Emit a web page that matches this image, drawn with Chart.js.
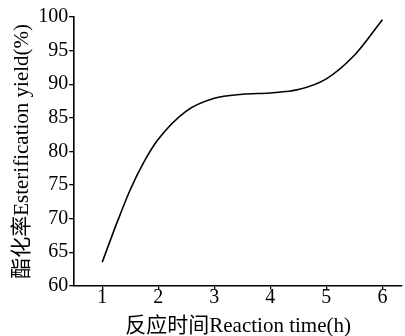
<!DOCTYPE html>
<html>
<head>
<meta charset="utf-8">
<script src="https://cdn.jsdelivr.net/npm/chart.js@4"></script>
<style>
  html, body { margin: 0; padding: 0; background: #fff; }
  #wrap { width: 405px; height: 336px; }
</style>
</head>
<body>
<div id="wrap"><canvas id="myChart"></canvas></div>
<script>
// reaction time (h) and esterification yield (%)
const times = [1, 1.25, 1.5, 1.75, 2, 2.5, 3, 3.5, 4, 4.5, 5, 5.5, 6];
const yields = [63.5, 69.1, 74.3, 78.5, 81.8, 86.0, 87.9, 88.5, 88.7, 89.2, 90.8, 94.3, 99.6];

const xTicks = [1, 2, 3, 4, 5, 6];
const yTicks = [60, 65, 70, 75, 80, 85, 90, 95, 100];

const serif = "'Liberation Serif', 'Noto Sans CJK SC', serif";

const points = times.map(function (t, i) {
    return { x: t, y: yields[i] };
});

const config = {
    type: 'line',
    data: {
        datasets: [{
            data: points,
            borderColor: '#000',
            borderWidth: 1.6,
            pointRadius: 0,
            cubicInterpolationMode: 'monotone',
            fill: false
        }]
    },
    options: {
        responsive: true,
        maintainAspectRatio: false,
        animation: false,
        layout: { padding: { left: 10, right: 3, top: 17, bottom: 0 } },
        plugins: {
            legend: { display: false },
            tooltip: { enabled: false }
        },
        scales: {
            x: {
                type: 'linear',
                min: 0.5,
                max: 6.35,
                afterBuildTicks: function (axis) {
                    axis.ticks = xTicks.map(function (v) { return { value: v }; });
                },
                grid: {
                    display: true,
                    drawOnChartArea: false,
                    drawTicks: true,
                    tickLength: 4,
                    color: '#000',
                    lineWidth: 1.3
                },
                border: { display: true, color: '#000', width: 1.6 },
                ticks: {
                    color: '#000',
                    padding: -4,
                    maxRotation: 0,
                    font: { family: serif, size: 20 }
                },
                title: {
                    display: true,
                    text: '反应时间Reaction time(h)',
                    color: '#000',
                    padding: { top: 8, bottom: -3 },
                    font: { family: serif, size: 21 }
                }
            },
            y: {
                min: 60,
                max: 100,
                afterBuildTicks: function (axis) {
                    axis.ticks = yTicks.map(function (v) { return { value: v }; });
                },
                grid: {
                    display: true,
                    drawOnChartArea: false,
                    drawTicks: true,
                    tickLength: 5,
                    color: '#000',
                    lineWidth: 1.3
                },
                border: { display: true, color: '#000', width: 1.6 },
                ticks: {
                    color: '#000',
                    padding: 1,
                    font: { family: serif, size: 20 }
                },
                title: {
                    display: true,
                    text: '酯化率Esterification yield(%)',
                    color: '#000',
                    padding: { top: 0, bottom: 2 },
                    font: { family: serif, size: 21 }
                }
            }
        }
    }
};

var myChart = new Chart(document.getElementById('myChart'), config);
</script>
</body>
</html>
